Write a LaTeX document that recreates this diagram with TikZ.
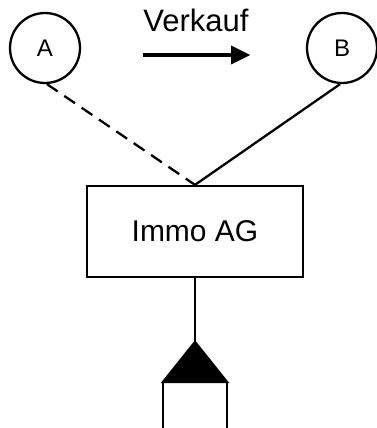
\documentclass[tikz,border=0pt]{standalone}
\usepackage{fontspec}
\setmainfont{Liberation Sans}
\begin{document}
\begin{tikzpicture}[x=1pt,y=-1pt,
  ln/.style={line width=2.3pt, line cap=butt},
  party/.style={circle, draw, line width=2.3pt, minimum size=70pt, inner sep=0pt, font=\fontsize{24}{24}\selectfont},
  boxnode/.style={draw, line width=2.3pt, minimum width=216pt, minimum height=91pt, inner sep=0pt, font=\fontsize{30}{30}\selectfont}]
\useasboundingbox (0,0) rectangle (376,428);
\node[party] (A) at (45,48) {A};
\node[party] (B) at (342,48) {B};
\node[font=\fontsize{31}{31}\selectfont, anchor=base] (verk) at (196,32) {Verkauf};
\coordinate (arrs) at (143,55);
\coordinate (arre) at (250,55);
\draw[line width=3.5pt] (arrs) -- (233,55);
\fill (231,45.5) -- (arre) -- (231,64.5) -- cycle;
\node[boxnode] (immo) at (195,231.5) {Immo AG};
\draw[ln, dash pattern=on 13pt off 8pt] (A.-87) -- (immo.north);
\draw[ln] (B.-93) -- (immo.north);
\coordinate (apex) at (195,342);
\coordinate (bl) at (163,382);
\coordinate (br) at (227,382);
\coordinate (sl) at (163,440);
\coordinate (sr) at (227,440);
\draw[ln] (immo.south) -- (apex);
\filldraw[ln, line join=miter] (apex) -- (br) -- (bl) -- cycle;
\draw[ln] (bl) -- (sl);
\draw[ln] (br) -- (sr);
\end{tikzpicture}
\end{document}
